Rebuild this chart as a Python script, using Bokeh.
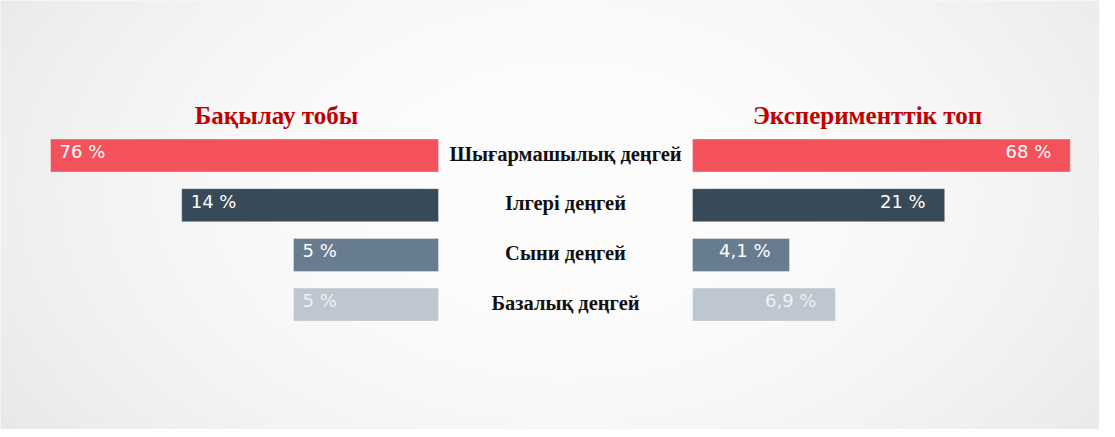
import numpy as np
from bokeh.plotting import figure
from bokeh.models import Range1d, ColumnDataSource
from bokeh.core.properties import value
from bokeh.embed import file_html
from bokeh.resources import INLINE

# ---------------- data ----------------
categories = ["Шығармашылық деңгей", "Ілгері деңгей", "Сыни деңгей", "Базалық деңгей"]
control_labels = ["76 %", "14 %", "5 %", "5 %"]
experimental_labels = ["68 %", "21 %", "4,1 %", "6,9 %"]
# drawn bar lengths as they appear in the picture (chart units)
control_bar = [76.0, 50.3, 28.4, 28.4]
experimental_bar = [74.0, 49.4, 19.0, 28.0]
group_titles = ["Бақылау тобы", "Эксперименттік топ"]
bar_colors = ["#f4525b", "#384a57", "#687c90", "#bec6cf"]
label_colors = ["#ffffff", "#ffffff", "#ffffff", "#eef1f5"]

# ---------------- layout ----------------
W, H = 1099, 429
PX = 388 / 76.0          # pixels per chart unit
CX = 565                 # centre of the gap, px from left
gap = 127 / PX
row_top = [155 + i * 49.7 for i in range(len(categories))]
row_y = [H - t for t in row_top]
bar_h = 33

p = figure(width=W, height=H, output_backend="svg", toolbar_location=None,
           x_range=Range1d(-CX / PX, (W - CX) / PX), y_range=Range1d(0, H),
           x_axis_type=None, y_axis_type=None, min_border=0)
p.grid.visible = False
p.outline_line_color = None
p.background_fill_color = "#f4f4f4"
p.border_fill_color = "#ffffff"

# radial background gradient
gh, gw = H // 2, W // 2
yy, xx = np.mgrid[0:gh, 0:gw]
py_top = (gh - 1 - yy) * 2.0
px_ = xx * 2.0
d = np.sqrt(((px_ - CX) / 660.0) ** 2 + ((py_top - 190) / 430.0) ** 2)
c = (253 - 20 * np.clip(d, 0, 1.2) ** 2).astype(np.uint32)
img = (255 << 24) | (c << 16) | (c << 8) | c
p.image_rgba(image=[img.astype(np.uint32)], x=-CX / PX, y=0, dw=W / PX, dh=H)

src = ColumnDataSource(dict(
    y=row_y,
    cat=categories,
    cl=control_labels,
    el=experimental_labels,
    l_left=[-gap - v for v in control_bar],
    r_right=[gap + v for v in experimental_bar],
    color=bar_colors,
    lcolor=label_colors,
    ly=[y + 4 for y in row_y],
    cy=[y + 2 for y in row_y],
    l_lx=[-gap - v + 9 / PX for v in control_bar],
    r_lx=[gap + v - 19 / PX for v in experimental_bar],
    zero=[0] * len(categories),
))

p.hbar(y="y", left="l_left", right=-gap, height=bar_h, fill_color="color",
       line_color="#ffffff", line_alpha=0.35, line_width=1, source=src)
p.hbar(y="y", left=gap, right="r_right", height=bar_h, fill_color="color",
       line_color="#ffffff", line_alpha=0.35, line_width=1, source=src)

p.text(x="l_lx", y="ly", text="cl", text_color="lcolor", text_align="left",
       text_baseline="middle", text_font=value("DejaVu Sans"), text_font_size="18px", source=src)
p.text(x="r_lx", y="ly", text="el", text_color="lcolor", text_align="right",
       text_baseline="middle", text_font=value("DejaVu Sans"), text_font_size="18px", source=src)

p.text(x="zero", y="cy", text="cat", text_color="#111111", text_align="center",
       text_baseline="middle", text_font=value("Liberation Serif"), text_font_style="bold",
       text_font_size="20.5px", source=src)

title_src = ColumnDataSource(dict(
    x=[(284 - 8 - CX) / PX, (875 - 8 - CX) / PX],
    y=[H - 115, H - 115],
    t=group_titles,
))
p.text(x="x", y="y", text="t", text_color="#c00000", text_align="center",
       text_baseline="middle", text_font=value("Liberation Serif"), text_font_style="bold",
       text_font_size="25px", source=title_src)

open("out.html", "w").write(file_html(p, INLINE))
